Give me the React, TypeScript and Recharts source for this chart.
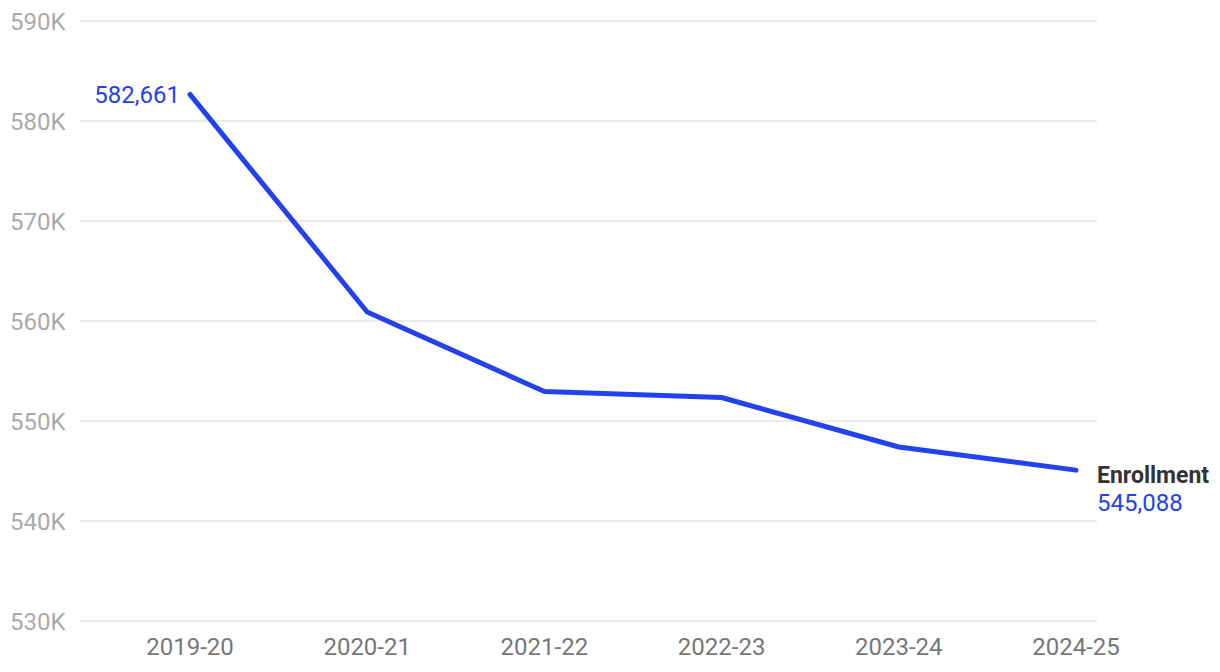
import React from "react";
import { LineChart, Line, XAxis, YAxis, CartesianGrid } from "recharts";

const years = ["2019-20", "2020-21", "2021-22", "2022-23", "2023-24", "2024-25"];
const enrollment = [582661, 560900, 552950, 552350, 547400, 545088];
const yTicks = [530000, 540000, 550000, 560000, 570000, 580000, 590000];
const seriesName = "Enrollment";

const data = years.map((y, i) => ({ year: y, value: enrollment[i] }));

const FONT = "Roboto, 'Liberation Sans', sans-serif";
const BLUE = "#2342ee";

const YTick = (props: any) => {
  const { y, payload } = props;
  return (
    <text x={10} y={y} dy="0.36em" textAnchor="start" fill="#aaaaaa" fontSize={24} fontFamily={FONT}>
      {`${payload.value / 1000}K`}
    </text>
  );
};

const XTick = (props: any) => {
  const { x, y, payload } = props;
  return (
    <text x={x} y={y + 19} dy="0.36em" textAnchor="middle" fill="#777777" fontSize={24} fontFamily={FONT}>
      {payload.value}
    </text>
  );
};

const PointLabel = (props: any) => {
  const { x, y, index, value } = props;
  const fmt = Number(value).toLocaleString("en-US");
  if (index === 0) {
    return (
      <text x={x - 10} y={y} dy="0.36em" textAnchor="end" fill={BLUE} fontSize={24} fontFamily={FONT}>
        {fmt}
      </text>
    );
  }
  if (index === enrollment.length - 1) {
    return (
      <g>
        <text x={x + 21} y={y + 5} dy="0.36em" textAnchor="start" fill="#333333" fontSize={23} fontWeight={700} fontFamily={FONT}>
          {seriesName}
        </text>
        <text x={x + 21} y={y + 32} dy="0.36em" textAnchor="start" fill={BLUE} fontSize={24} fontFamily={FONT}>
          {fmt}
        </text>
      </g>
    );
  }
  return null;
};

export default function App() {
  return (
    <div style={{ position: "absolute", left: 0, top: 0, width: 1220, height: 672, background: "#fff" }}>
      <LineChart width={1220} height={672} data={data} margin={{ top: 21, right: 123, bottom: 0, left: 0 }}>
        <CartesianGrid vertical={false} stroke="#e4e4e4" strokeWidth={1.5} />
        <XAxis
          dataKey="year"
          axisLine={false}
          tickLine={false}
          height={51}
          padding={{ left: 110, right: 21 }}
          tick={<XTick />}
          tickMargin={0}
          interval={0}
        />
        <YAxis
          domain={[530000, 590000]}
          ticks={yTicks}
          axisLine={false}
          tickLine={false}
          width={80}
          tick={<YTick />}
          interval={0}
        />
        <Line
          type="linear"
          dataKey="value"
          stroke={BLUE}
          strokeWidth={5}
          strokeLinecap="round"
          strokeLinejoin="round"
          dot={false}
          activeDot={false}
          isAnimationActive={false}
          label={<PointLabel />}
        />
      </LineChart>
    </div>
  );
}
